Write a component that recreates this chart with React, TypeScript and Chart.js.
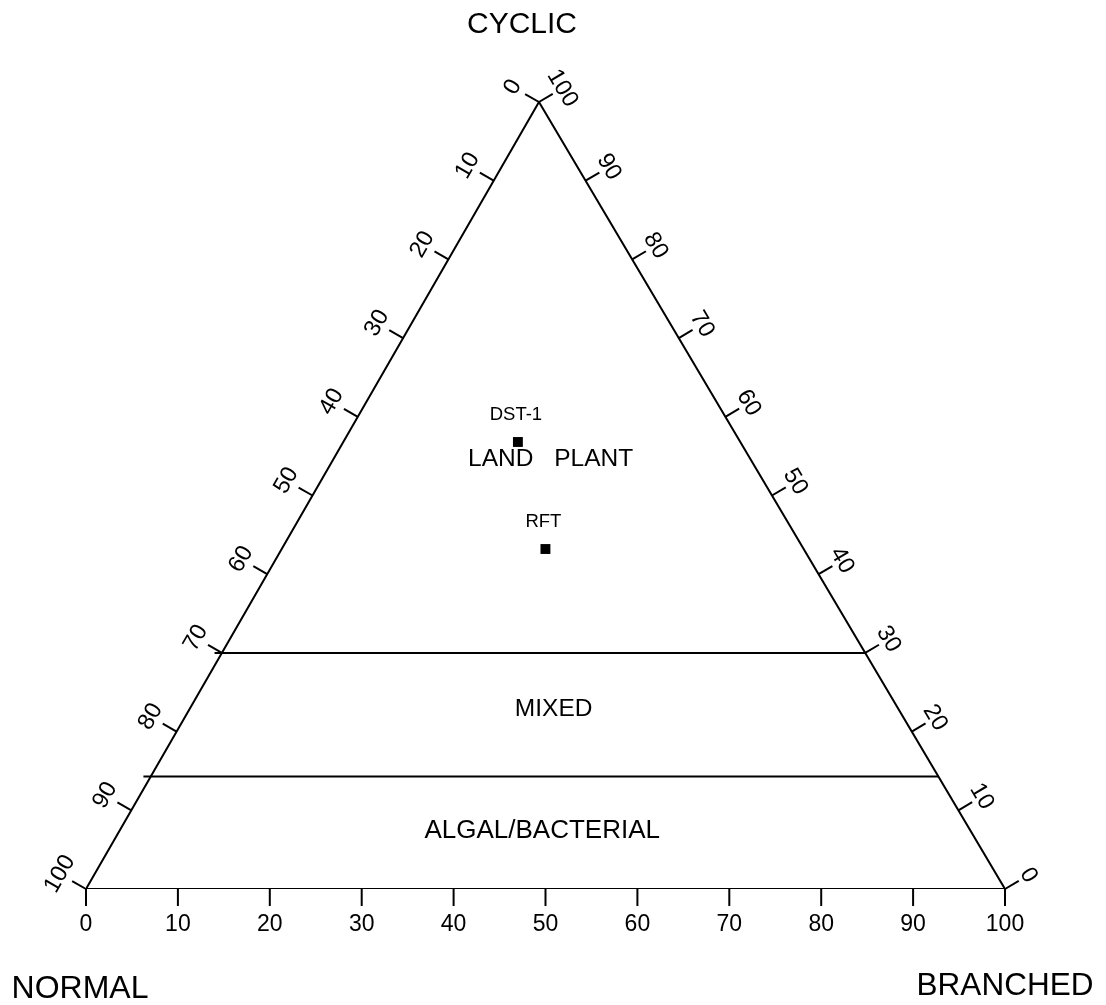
import React, { useEffect, useRef } from "react";
import { Chart, registerables } from "chart.js";

Chart.register(...registerables);

// ---------- data ----------
const TICK_VALUES = [0, 10, 20, 30, 40, 50, 60, 70, 80, 90, 100];
const BOTTOM_TICK_LABELS = ["0", "10", "20", "30", "40", "50", "60", "70", "80", "90", "100"];
const LEFT_TICK_LABELS = ["0", "10", "20", "30", "40", "50", "60", "70", "80", "90", "100"];
const RIGHT_TICK_LABELS = ["0", "10", "20", "30", "40", "50", "60", "70", "80", "90", "100"];

const AXIS_TITLES = ["CYCLIC", "NORMAL", "BRANCHED"];

const SAMPLE_NAMES = ["DST-1", "RFT"];
const SAMPLE_NORMAL = [24.2, 28.1];
const SAMPLE_BRANCHED = [19.0, 28.7];
const SAMPLE_CYCLIC = [56.8, 43.2];

const ZONE_BOUNDARIES_CYCLIC = [30, 14.3];
const ZONE_NAMES = ["LAND PLANT", "MIXED", "ALGAL/BACTERIAL"];
const ZONE_LABEL_BRANCHED = [23.5, 39.5, 45.9];
const ZONE_LABEL_CYCLIC = [54.9, 23.1, 7.6];

// ---------- geometry helpers ----------
const APEX = 0.4929; // horizontal position of the CYCLIC apex along the base
const toXY = (branched: number, cyclic: number) => ({ x: branched + cyclic * APEX, y: cyclic });

const FONT = '"Liberation Sans", Arial, sans-serif';
const ZONE_FONT_SIZES = [24.5, 24.5, 26];
const ZONE_WORD_SPACING = [14, 0, 0];

const ternaryPlugin = {
  id: "ternaryDecor",
  afterDatasetsDraw(chart: any) {
    const ctx = chart.ctx as CanvasRenderingContext2D;
    const xs = chart.scales.x;
    const ys = chart.scales.y;
    const px = (b: number, c: number) => {
      const p = toXY(b, c);
      return { x: xs.getPixelForValue(p.x), y: ys.getPixelForValue(p.y) };
    };
    const BL = px(0, 0);
    const BR = px(100, 0);
    const TOP = px(0, 100);

    const text = (t: string, x: number, y: number, size: number, rot = 0, wordSpacing = 0) => {
      ctx.save();
      ctx.translate(x, y);
      ctx.rotate(rot);
      ctx.font = `${size}px ${FONT}`;
      (ctx as any).wordSpacing = `${wordSpacing}px`;
      ctx.fillStyle = "#000";
      ctx.textAlign = "center";
      ctx.textBaseline = "alphabetic";
      ctx.fillText(t, 0, size * 0.358);
      ctx.restore();
    };
    const seg = (x1: number, y1: number, x2: number, y2: number) => {
      ctx.beginPath();
      ctx.moveTo(x1, y1);
      ctx.lineTo(x2, y2);
      ctx.stroke();
    };

    ctx.save();
    ctx.strokeStyle = "#000";
    ctx.lineWidth = 2;
    ctx.lineCap = "butt";

    // bottom axis (BRANCHED %)
    TICK_VALUES.forEach((v, i) => {
      const p = px(v, 0);
      seg(p.x, p.y, p.x, p.y + 17);
      text(BOTTOM_TICK_LABELS[i], p.x, p.y + 34, 23);
    });

    // left side (NORMAL %): 0 at apex, 100 at bottom-left
    {
      const dx = TOP.x - BL.x, dy = TOP.y - BL.y;
      const len = Math.hypot(dx, dy);
      const ux = dx / len, uy = dy / len;
      const nx = uy, ny = -ux;
      const rot = Math.atan2(uy, ux);
      TICK_VALUES.forEach((v, i) => {
        const p = px(0, 100 - v);
        seg(p.x, p.y, p.x + nx * 16, p.y + ny * 16);
        text(LEFT_TICK_LABELS[i], p.x + nx * 32, p.y + ny * 32, 23.5, rot);
      });
    }

    // right side (CYCLIC %): 100 at apex, 0 at bottom-right
    {
      const dx = BR.x - TOP.x, dy = BR.y - TOP.y;
      const len = Math.hypot(dx, dy);
      const ux = dx / len, uy = dy / len;
      const nx = uy, ny = -ux;
      const rot = Math.atan2(uy, ux);
      TICK_VALUES.forEach((v, i) => {
        const p = px(100 - v, v);
        seg(p.x, p.y, p.x + nx * 16, p.y + ny * 16);
        text(RIGHT_TICK_LABELS[i], p.x + nx * 29, p.y + ny * 29, 23.5, rot);
      });
    }
    ctx.restore();

    // axis titles
    text(AXIS_TITLES[0], TOP.x - 17, TOP.y - 80, 30);
    text(AXIS_TITLES[1], BL.x - 6, BL.y + 98, 32);
    text(AXIS_TITLES[2], BR.x, BR.y + 95, 31.5);

    // zone labels
    ZONE_NAMES.forEach((name, i) => {
      const p = px(ZONE_LABEL_BRANCHED[i], ZONE_LABEL_CYCLIC[i]);
      text(name, p.x, p.y, ZONE_FONT_SIZES[i], 0, ZONE_WORD_SPACING[i]);
    });

    // sample labels
    SAMPLE_NAMES.forEach((name, i) => {
      const p = px(SAMPLE_BRANCHED[i], SAMPLE_CYCLIC[i]);
      text(name, p.x - 2, p.y - 29, 18.5);
    });
  },
};

export default function App() {
  const canvasRef = useRef<HTMLCanvasElement | null>(null);

  useEffect(() => {
    const canvas = canvasRef.current;
    if (!canvas) return;

    const outline = [toXY(0, 0), toXY(100, 0), toXY(0, 100), toXY(0, 0)];

    const boundaryDatasets = ZONE_BOUNDARIES_CYCLIC.map((c) => ({
      type: "scatter" as const,
      data: [toXY(-0.8, c), toXY(100 - c, c)],
      showLine: true,
      borderColor: "#000",
      borderWidth: 2,
      pointRadius: 0,
      pointHoverRadius: 0,
      fill: false,
    }));

    const samples = SAMPLE_NAMES.map((_, i) => toXY(SAMPLE_BRANCHED[i], SAMPLE_CYCLIC[i]));

    const chart = new Chart(canvas, {
      type: "scatter",
      data: {
        datasets: [
          {
            data: outline,
            showLine: true,
            borderColor: "#000",
            borderWidth: 2,
            pointRadius: 0,
            pointHoverRadius: 0,
            fill: false,
          } as any,
          ...boundaryDatasets,
          {
            data: samples,
            pointStyle: "rect",
            pointRadius: 7,
            pointHoverRadius: 7,
            backgroundColor: "#000",
            borderColor: "#000",
            borderWidth: 0,
            showLine: false,
          } as any,
        ],
      },
      options: {
        animation: false,
        responsive: false,
        maintainAspectRatio: false,
        devicePixelRatio: 1,
        events: [],
        layout: { padding: { left: 86, right: 101, top: 102, bottom: 116 } },
        plugins: {
          legend: { display: false },
          title: { display: false },
          tooltip: { enabled: false },
        },
        scales: {
          x: { type: "linear", min: 0, max: 100, display: false },
          y: { type: "linear", min: 0, max: 100, display: false },
        },
      },
      plugins: [ternaryPlugin],
    });

    return () => chart.destroy();
  }, []);

  return (
    <div style={{ position: "absolute", left: 0, top: 0, width: 1106, height: 1005, background: "#fff" }}>
      <canvas ref={canvasRef} width={1106} height={1005} style={{ width: 1106, height: 1005, display: "block" }} />
    </div>
  );
}
